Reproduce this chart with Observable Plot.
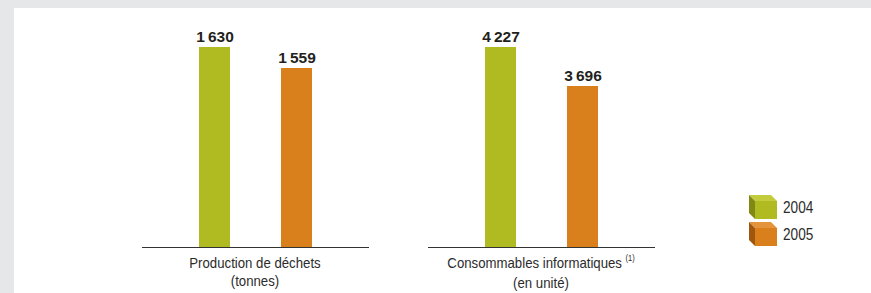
<!DOCTYPE html>
<html>
<head>
<meta charset="utf-8">
<script src="https://cdn.jsdelivr.net/npm/d3@7"></script>
<script src="https://cdn.jsdelivr.net/npm/@observablehq/plot@0.6"></script>
<style>
  html, body { margin: 0; padding: 0; }
  body { width: 871px; height: 293px; overflow: hidden; background: #e6e7e8; position: relative;
         font-family: "Liberation Sans", Arial, sans-serif; }
  #panel { position: absolute; left: 14px; top: 8px; right: 0; bottom: -20px; background: #fff; }
  .chart { position: absolute; top: 0; }
  .cat { position: absolute; top: 254px; width: 260px; text-align: center; font-size: 15px; line-height: 18px; color: #2b2b2b;
         transform: scaleX(0.88); transform-origin: 50% 0; }
  .cat sup { font-size: 8.5px; vertical-align: 0; position: relative; top: -7px; margin-left: 4px; }
  .leg { position: absolute; left: 748px; }
  .leg span { position: absolute; left: 35px; top: 5px; font-size: 16px; color: #2b2b2b; line-height: 16px;
              transform: scaleX(0.85); transform-origin: 0 0; }
</style>
</head>
<body>
<div id="panel"></div>
<div id="left" class="chart" style="left:0px"></div>
<div id="right" class="chart" style="left:400px"></div>
<div class="cat" style="left:125px">Production de déchets<br>(tonnes)</div>
<div class="cat" style="left:411px">Consommables informatiques<sup>(1)</sup><br>(en unité)</div>
<div id="legend"></div>
<script>
const years = ["2004", "2005"];
const colors = ["#b0bb22", "#d9801c"];
const wasteValues = [1630, 1559];        // Production de déchets (tonnes)
const suppliesValues = [4227, 3696];     // Consommables informatiques (en unité)

const fmt = v => d3.format(",")(v).replace(",", "\u2009");

function chart(values, opts) {
  const data = years.map((y, i) => ({year: y, value: values[i]}));
  return Plot.plot({
    width: opts.width,
    height: 293,
    marginLeft: opts.ml,
    marginRight: opts.mr,
    marginTop: 47,
    marginBottom: 46,
    x: {type: "band", domain: years, paddingInner: 0.622, paddingOuter: 0.683, axis: null},
    y: {domain: [opts.lo, d3.max(values)], clamp: true, axis: null},
    color: {domain: years, range: colors},
    style: {background: "transparent", overflow: "visible"},
    marks: [
      Plot.barY(data, {x: "year", y: "value", fill: "year"}),
      Plot.ruleY([opts.lo], {stroke: "#333", strokeWidth: 1}),
      Plot.text(data, {x: "year", y: "value", text: d => fmt(d.value), dy: -6, lineAnchor: "bottom",
        fontSize: 15.5, fontWeight: "bold", fill: "#231f20", fontFamily: "Liberation Sans, Arial, sans-serif"})
    ]
  });
}

document.getElementById("left").append(chart(wasteValues, {width: 400, ml: 142, mr: 31, lo: 954}));
document.getElementById("right").append(chart(suppliesValues, {width: 300, ml: 28, mr: 45, lo: 1504}));

// legend with cube icons
const cubeShades = [
  {front: "#b0bb22", top: "#c3cc3c", side: "#7f8913"},
  {front: "#d9801c", top: "#e4953c", side: "#a0570d"}
];
const legend = document.getElementById("legend");
years.forEach((y, i) => {
  const c = cubeShades[i];
  const div = document.createElement("div");
  div.className = "leg";
  div.style.top = (195 + i * 27) + "px";
  div.innerHTML = `<svg width="30" height="25" style="display:block">
    <polygon points="1,0 23,0 29,6 7,6" fill="${c.top}"/>
    <polygon points="1,0 7,6 7,24 1,18" fill="${c.side}"/>
    <rect x="7" y="6" width="22" height="18" fill="${c.front}"/>
  </svg><span>${y}</span>`;
  legend.append(div);
});
</script>
</body>
</html>
